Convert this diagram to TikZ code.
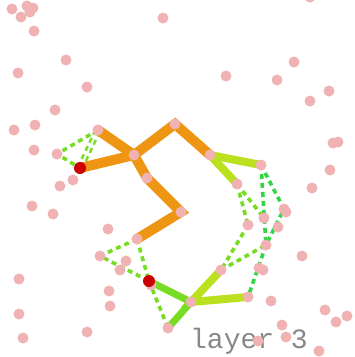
\documentclass[tikz,border=0pt]{standalone}
\usepackage{fontspec}
\setmonofont{Liberation Mono}
\usetikzlibrary{backgrounds}
\definecolor{dotpink}{RGB}{240,178,178}
\definecolor{dotred}{RGB}{204,0,0}
\definecolor{edgeorange}{RGB}{238,150,20}
\definecolor{edgelime}{RGB}{187,224,30}
\definecolor{edgegreen}{RGB}{119,221,34}
\definecolor{dashgreen}{RGB}{51,214,68}
\definecolor{labelgray}{RGB}{136,136,136}

\begin{document}
\begin{tikzpicture}[x=1pt, y=-1pt,
  dot/.style={circle, fill=dotpink, inner sep=0pt, minimum size=11pt},
  reddot/.style={circle, fill=dotred, inner sep=0pt, minimum size=12pt},
  orangeedge/.style={line width=10pt, draw=edgeorange, line cap=round},
  limeedge/.style={line width=8pt, draw=edgelime, line cap=round},
  greenedge/.style={line width=7pt, draw=edgegreen, line cap=round},
  dashedge/.style={line width=3.6pt, dash pattern=on 5pt off 4pt, draw=edgegreen},
  dashedgeb/.style={dashedge, draw=dashgreen}]
\useasboundingbox (0,0) rectangle (355,357);

% loose dots
\foreach \x/\y [count=\i] in {12/9, 27/6, 33/8, 30/12, 21/17, 34/31, 163/18, 310/-3,
  66/60, 18/73, 87/87, 294/62, 226/76, 277/80, 329/91, 310/101, 55/110,
  14/130, 35/125, 34/150, 73/180, 333/143, 338/142, 330/170, 312/188,
  60/186, 32/206, 53/214, 108/229, 126/261, 120/270, 19/279, 151/285,
  109/291, 110/306, 19/314, 23/338, 87/332, 302/256, 259/268, 263/270,
  271/301, 325/310, 347/316, 336/322, 282/325, 286/337, 258/341, 319/351,
  278/227, 286/212}
  \node[dot] (p\i) at (\x,\y) {};

% graph dots
\node[dot] (a) at (98,130) {};
\node[dot] (b) at (134,155) {};
\node[dot] (c) at (175,124) {};
\node[dot] (d) at (210,155) {};
\node[dot] (e) at (147,178) {};
\node[dot] (f) at (181,212) {};
\node[dot] (g) at (137,239) {};
\node[dot] (h) at (261,165) {};
\node[dot] (i) at (237,184) {};
\node[dot] (j) at (221,270) {};
\node[dot] (k) at (191,302) {};
\node[dot] (l) at (248,297) {};
\node[dot] (m) at (168,328) {};
\node[dot] (n) at (248,225) {};
\node[dot] (o) at (264,218) {};
\node[dot] (q) at (57,154) {};
\node[dot] (s) at (284,209) {};
\node[dot] (t) at (100,256) {};
\node[dot] (u) at (266,245) {};
\node[reddot] (r1) at (80,168) {};
\node[reddot] (r2) at (149,281) {};

\begin{scope}[on background layer]
\node[anchor=base, text=labelgray, inner sep=0pt] (title) at (249,348)
  {\ttfamily\fontsize{28}{28}\selectfont layer 3};

% dashed links
\draw[dashedge] (a.center) -- (q.center) -- (r1.center);
\draw[dashedge, double=white, line width=2.6pt, double distance=2pt] (r1.center) -- (a.center);
\draw[dashedge] (g.center) -- (t.center) -- (r2.center);
\draw[dashedge] (g.center) -- (r2.center);
\draw[dashedge] (r2.center) -- (m.center);
\draw[dashedge] (i.center) -- (n.center);
\draw[dashedge] (i.center) -- (o.center);
\draw[dashedge] (n.center) -- (j.center);
\draw[dashedge] (j.center) -- (u.center);
\draw[dashedgeb] (h.center) -- (u.center);
\draw[dashedgeb] (h.center) -- (s.center) -- (u.center);
\draw[dashedgeb] (u.center) -- (l.center);

% thick links
\draw[orangeedge] (a.center) -- (b.center);
\draw[orangeedge] (r1.center) -- (b.center);
\draw[orangeedge] (b.center) -- (c.center) -- (d.center);
\draw[orangeedge] (b.center) -- (e.center) -- (f.center) -- (g.center);
\draw[limeedge] (d.center) -- (h.center);
\draw[limeedge] (d.center) -- (i.center);
\draw[limeedge] (j.center) -- (k.center) -- (l.center);
\draw[greenedge] (r2.center) -- (k.center) -- (m.center);
\end{scope}
\end{tikzpicture}
\end{document}
